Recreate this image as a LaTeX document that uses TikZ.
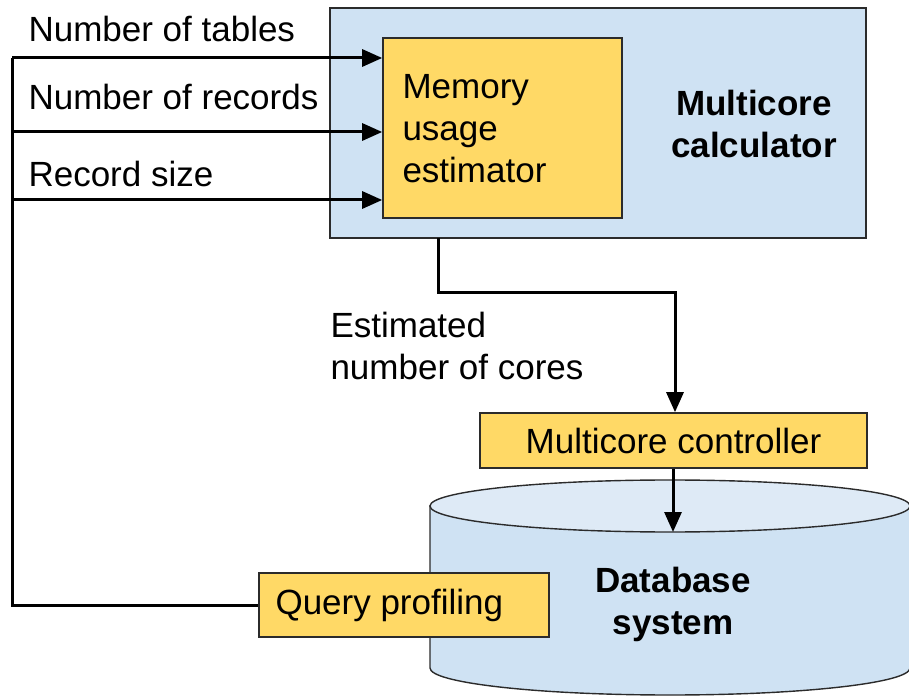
\documentclass[tikz,border=0pt]{standalone}
\usepackage{fontspec}
\setmainfont{Liberation Sans}
\usetikzlibrary{arrows.meta}
\definecolor{boxblue}{HTML}{CFE2F3}
\definecolor{topblue}{HTML}{DEEAF6}
\definecolor{boxyellow}{HTML}{FFD966}
\definecolor{edge}{HTML}{2B2B2B}
\tikzset{
  big/.style={font=\fontsize{35}{42}\selectfont},
  bigb/.style={font=\fontsize{35}{42}\selectfont\bfseries},
  ybox/.style={draw=edge, line width=1.6pt, fill=boxyellow},
  conn/.style={draw=black, line width=3pt},
  arr/.style={conn, -{Triangle[length=20pt,width=17pt]}},
}
\begin{document}
\begin{tikzpicture}[x=1pt,y=1pt]
\useasboundingbox (0,0) rectangle (909,696);
% multicore calculator
\path[draw=edge, line width=1.4pt, fill=boxblue] (330,688) rectangle (866,458);
\coordinate (calcbot) at (438,458);
\node[ybox, minimum width=239pt, minimum height=180pt] (mem) at (502.5,568) {};
\node[big, align=left, anchor=west] (memtxt) at (399,567) {Memory\\usage\\estimator};
\node[bigb, align=center] (calc) at (754,572) {Multicore\\calculator};
% cylinder
\path[draw=edge, line width=1.4pt, fill=boxblue]
  (430,190) -- (430,28) arc[start angle=180, end angle=360, x radius=240pt, y radius=27pt]
  -- (910,190) -- cycle;
\path[draw=edge, line width=1.4pt, fill=topblue] (670,190) ellipse[x radius=240pt, y radius=26pt];
\coordinate (dbtop) at (673,164);
\node[bigb, align=center] (db) at (673,92) {Database\\system};
% controller
\node[ybox, minimum width=387pt, minimum height=55pt, big] (ctrl) at (673.5,255.5) {Multicore controller};
% query profiling
\node[ybox, minimum width=290pt, minimum height=64pt, anchor=west] (qp) at (258,91) {};
\node[big, anchor=west] (qptxt) at (272,91) {Query profiling};
% inputs
\coordinate (l1) at (12,638);
\coordinate (l2) at (12,564);
\coordinate (l3) at (12,496);
\coordinate (lq) at (12,91);
\draw[conn] (l1) -- (lq) -- (qp.west);
\draw[arr] (l1) -- (mem.west |- l1);
\draw[arr] (l2) -- (mem.west |- l2);
\draw[arr] (l3) -- (mem.west |- l3);
\node[big, anchor=base west] (t1) at (25,654) {Number of tables};
\node[big, anchor=base west] (t2) at (25,586) {Number of records};
\node[big, anchor=base west] (t3) at (25,509) {Record size};
% output
\draw[arr] (calcbot) -- (438,403) -- (675,403) -- (ctrl.north -| 675,0);
\node[big, align=left, anchor=west] (est) at (327,350) {Estimated\\number of cores};
\draw[arr] (ctrl.south -| dbtop) -- (dbtop);
\end{tikzpicture}
\end{document}
